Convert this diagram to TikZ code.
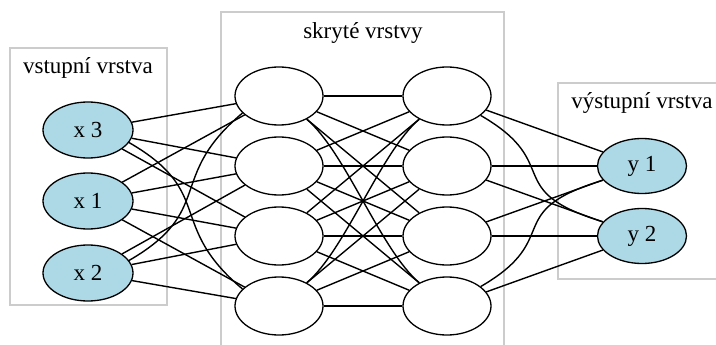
\documentclass[tikz,border=0pt]{standalone}
\usepackage{fontspec}
\setmainfont{Liberation Serif}
\usetikzlibrary{shapes.geometric}
\definecolor{inblue}{HTML}{ADD8E6}
\definecolor{boxgray}{HTML}{CCCCCC}
\tikzset{
  lbl/.style={font=\fontsize{23}{27}\selectfont, inner sep=0pt},
  neuron/.style={ellipse, draw=black, line width=1.3pt, inner sep=0pt,
    minimum width=89pt, minimum height=57pt, font=\fontsize{23}{27}\selectfont},
  io/.style={neuron, fill=inblue},
  hid/.style={neuron, fill=white, minimum width=88pt, minimum height=58pt},
  layerbox/.style={draw=boxgray, line width=2pt},
  edge/.style={draw=black, line width=1.4pt}
}
\begin{document}
\begin{tikzpicture}[x=1pt,y=1pt]
\useasboundingbox (0,0) rectangle (716,-345);
\clip (0,0) rectangle (716,-345);
\fill[white] (0,0) rectangle (716,-345);
% layer boxes
\draw[layerbox] (10,-48) rectangle (167,-305);
\draw[layerbox] (221,-12) rectangle (504,-360);
\draw[layerbox] (558,-83) rectangle (730,-279);
% labels
\node[lbl] (lin) at (88,-68) {vstupní vrstva};
\node[lbl] (lhid) at (363,-33) {skryté vrstvy};
\node[lbl] (lout) at (642,-103) {výstupní vrstva};
% input nodes
\node[io, minimum width=90pt, minimum height=56pt] (x3) at (88,-130) {x 3};
\node[io, minimum width=90pt, minimum height=56pt] (x1) at (88,-201) {x 1};
\node[io, minimum width=90pt, minimum height=56pt] (x2) at (88,-273) {x 2};
% hidden nodes
\node[hid] (h1a) at (279,-96) {};
\node[hid] (h2a) at (279,-166) {};
\node[hid] (h3a) at (279,-236) {};
\node[hid] (h4a) at (279,-306) {};
\node[hid] (h1b) at (447,-96) {};
\node[hid] (h2b) at (447,-166) {};
\node[hid] (h3b) at (447,-236) {};
\node[hid] (h4b) at (447,-306) {};
% output nodes
\node[io, minimum height=55pt] (y1) at (642,-166) {y 1};
\node[io, minimum height=55pt] (y2) at (642,-236) {y 2};
% input -> hidden 1
\draw[edge] (x3) -- (h1a);
\draw[edge] (x3) -- (h2a);
\draw[edge] (x3) -- (h3a);
\draw[edge] (x3.-17) .. controls +(-30:100) and +(140:100) .. (h4a.155);
\draw[edge] (x1) -- (h1a);
\draw[edge] (x1) -- (h2a);
\draw[edge] (x1) -- (h3a);
\draw[edge] (x1) -- (h4a);
\draw[edge] (x2.17) .. controls +(30:100) and +(-140:100) .. (h1a.-155);
\draw[edge] (x2) -- (h2a);
\draw[edge] (x2) -- (h3a);
\draw[edge] (x2) -- (h4a);
% hidden 1 -> hidden 2
\draw[edge] (h1a) -- (h1b);
\draw[edge] (h1a) -- (h2b);
\draw[edge] (h1a) -- (h3b);
\draw[edge] (h1a.-40) .. controls +(-40:50) and +(140:50) .. (h4b.140);
\draw[edge] (h2a) -- (h1b);
\draw[edge] (h2a) -- (h2b);
\draw[edge] (h2a) -- (h3b);
\draw[edge] (h2a) -- (h4b);
\draw[edge] (h3a) -- (h1b);
\draw[edge] (h3a) -- (h2b);
\draw[edge] (h3a) -- (h3b);
\draw[edge] (h3a) -- (h4b);
\draw[edge] (h4a.40) .. controls +(40:50) and +(-140:50) .. (h1b.-140);
\draw[edge] (h4a) -- (h2b);
\draw[edge] (h4a) -- (h3b);
\draw[edge] (h4a) -- (h4b);
% hidden 2 -> output
\draw[edge] (h1b) -- (y1);
\draw[edge] (h1b.-30) .. controls +(-30:97) and +(163:108) .. (y2.160);
\draw[edge] (h2b) -- (y1);
\draw[edge] (h2b) -- (y2);
\draw[edge] (h3b) -- (y1);
\draw[edge] (h3b) -- (y2);
\draw[edge] (h4b.30) .. controls +(30:97) and +(-163:108) .. (y1.-160);
\draw[edge] (h4b) -- (y2);
\end{tikzpicture}
\end{document}
